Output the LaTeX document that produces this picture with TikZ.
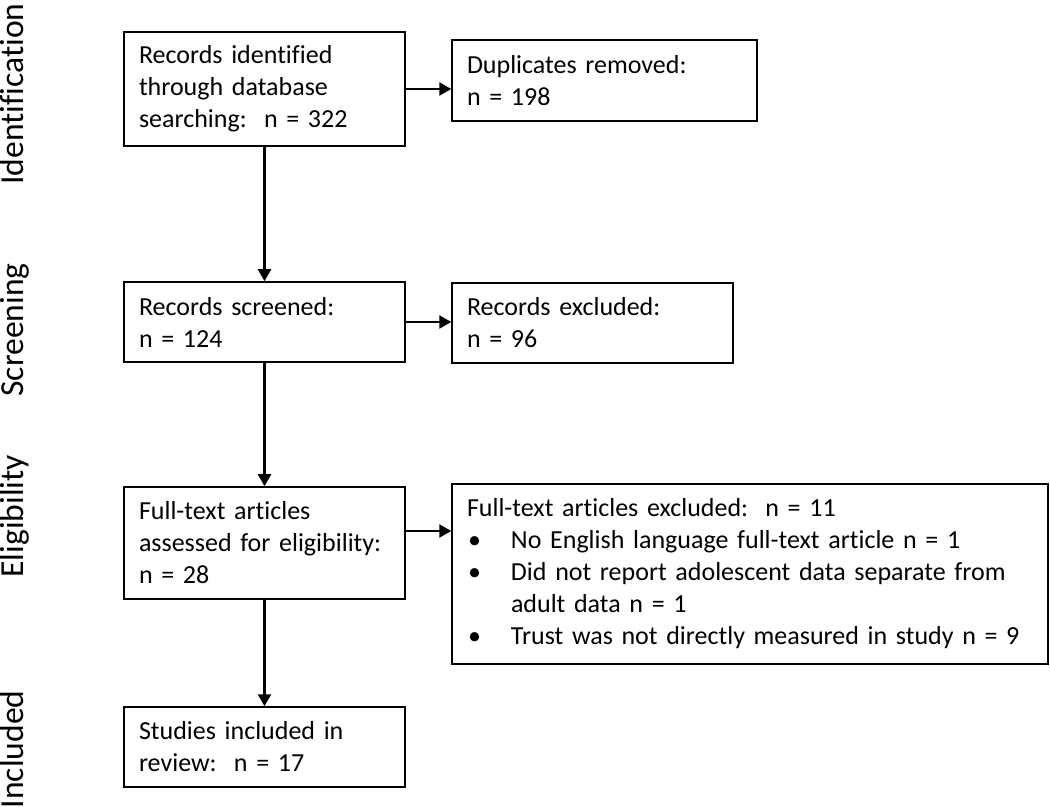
\documentclass[tikz,border=0pt]{standalone}
\usepackage{fontspec}
\setmainfont{Carlito}[Ligatures=NoCommon]
\usetikzlibrary{arrows.meta}
\begin{document}
\begin{tikzpicture}[x=0.5pt,y=-0.5pt,
  box/.style={draw, line width=0.75pt, align=left, inner xsep=7.5pt, inner ysep=0pt,
    font=\fontsize{13}{16}\selectfont, anchor=center},
  arr/.style={line width=1.2pt, -{Triangle[length=6pt,width=6.5pt]}},
  phase/.style={rotate=90, inner sep=0pt, font=\fontsize{16.8}{20}\selectfont}]
\useasboundingbox (0,0) rectangle (1050,807);
\clip (0,0) rectangle (1050,807);

% phase labels
\node[phase, anchor=base west] (lid) at (24,185) {Identification};
\node[phase, anchor=base west] (lsc) at (24,397) {Screening};
\node[phase, anchor=base west] (lel) at (24,578) {Eligibility};
\node[phase, anchor=base east] (lin) at (24,690) {Included};

% boxes
\node[box, text width=125.5pt, minimum height=57pt] (b1) at (264.5,89)
  {\mbox{Records identified}\\\mbox{through database}\\\mbox{searching:\ \ n = 322}};
\node[box, text width=137.5pt, minimum height=40.5pt] (b2) at (604.5,80.5)
  {\mbox{Duplicates removed:}\\\mbox{n = 198}};
\node[box, text width=125.5pt, minimum height=40pt] (b3) at (264.5,322)
  {\mbox{Records screened:}\\\mbox{n = 124}};
\node[box, text width=125.5pt, minimum height=40pt] (b4) at (592.5,323)
  {\mbox{Records excluded:}\\\mbox{n = 96}};
\node[box, text width=125.5pt, minimum height=56pt] (b5) at (264.5,543)
  {\mbox{Full-text articles}\\\mbox{assessed for eligibility:}\\\mbox{n = 28}};
\node[box, text width=283pt, minimum height=90pt] (b6) at (750,574)
  {\mbox{Full-text articles excluded:\ \ n = 11}\\
   \mbox{\makebox[22pt][l]{\hspace{0.5pt}\textbullet}No English language full-text article n = 1}\\
   \mbox{\makebox[22pt][l]{\hspace{0.5pt}\textbullet}Did not report adolescent data separate from}\\
   \mbox{\hspace*{22pt}adult data n = 1}\\
   \mbox{\makebox[22pt][l]{\hspace{0.5pt}\textbullet}Trust was not directly measured in study n = 9}};
\node[box, text width=125.5pt, minimum height=40pt] (b7) at (264.5,747)
  {\mbox{Studies included in}\\\mbox{review:\ \ n = 17}};

% connectors
\draw[arr] (b1.south) -- (b3.north);
\draw[arr] (b3.south) -- (b5.north);
\draw[arr] (b5.south) -- (b7.north);
\draw[arr] (b1.east) -- (b1.east -| b2.west);
\draw[arr] (b3.east) -- (b3.east -| b4.west);
\draw[arr] ([yshift=6pt]b5.east) -- ([yshift=6pt]b5.east -| b6.west);
\end{tikzpicture}
\end{document}
